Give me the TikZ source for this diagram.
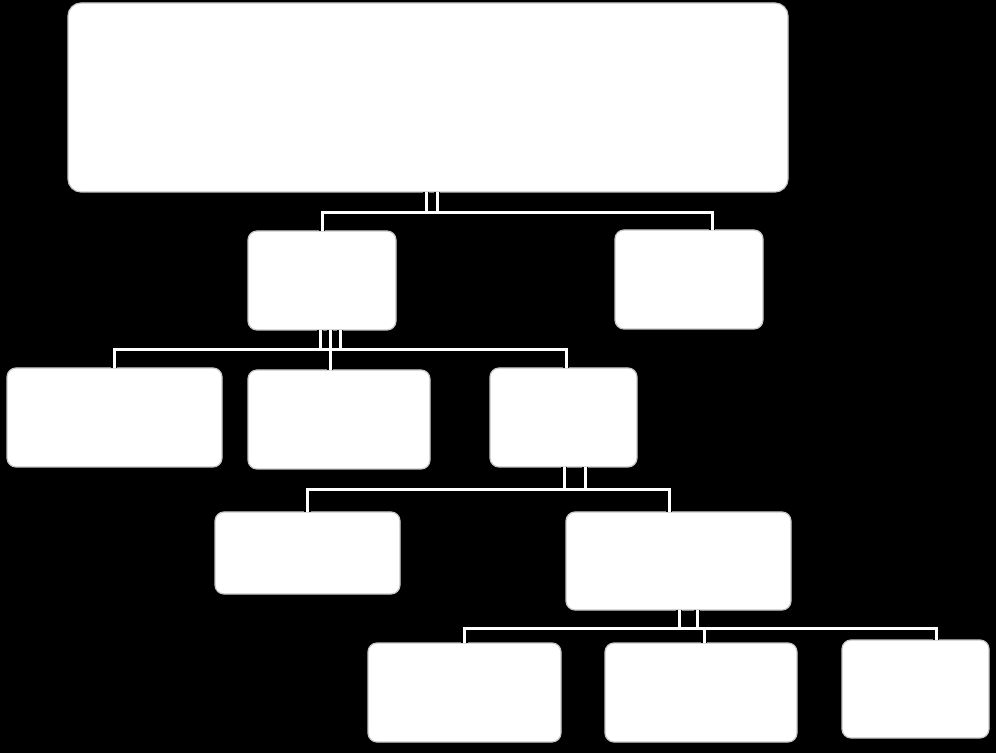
\documentclass[tikz,border=0pt]{standalone}
\usepackage{tikz}
\usetikzlibrary{positioning}

\begin{document}
\begin{tikzpicture}[x=1pt,y=1pt,
    every node/.style={fill=white,draw=gray!45,line width=1.2pt,rounded corners=9pt,outer sep=0pt,inner sep=0pt},
    linkedge/.style={draw=black,line width=6.5pt},
    linkcore/.style={draw=white,line width=3pt}]
      \fill[black] (0,0) rectangle (996,753);
      \useasboundingbox (0,0) rectangle (996,753);

      \node[minimum width={720pt},minimum height={189pt},rounded corners=13pt] (Top) at (428,655.5) {};

      \node[minimum width={148pt},minimum height={99pt}] (B1) at (322,472.5) {};
      \node[minimum width={148pt},minimum height={99pt}] (B2) at (689,473.5) {};

      \node[minimum width={215pt},minimum height={99pt}] (C1) at (114.5,335.5) {};
      \node[minimum width={182pt},minimum height={99pt}] (C2) at (339,333.5) {};
      \node[minimum width={147pt},minimum height={99pt}] (C3) at (563.5,335.5) {};

      \node[minimum width={185pt},minimum height={82pt}] (D1) at (307.5,200) {};
      \node[minimum width={225pt},minimum height={98pt}] (D2) at (678.5,192) {};

      \node[minimum width={193pt},minimum height={99pt}] (E1) at (464.5,60.5) {};
      \node[minimum width={192pt},minimum height={99pt}] (E2) at (701,60.5) {};
      \node[minimum width={147pt},minimum height={98pt}] (E3) at (915.5,64) {};

      % outline first, then the white core
      \foreach \ls in {linkedge,linkcore} {
        \draw[\ls] ([xshift=9pt]Top.south) |- ([yshift=18pt]B1.north) -- (B1.north);
        \draw[\ls] ([xshift=-2pt]Top.south) |- ([xshift=23pt,yshift=17pt]B2.north) -- ([xshift=23pt]B2.north);

        \draw[\ls] ([xshift=18pt]B1.south) |- ([xshift=-0.5pt,yshift=18pt]C1.north) -- ([xshift=-0.5pt]C1.north);
        \draw[\ls] ([xshift=8pt]B1.south) |- ([xshift=-9pt,yshift=20pt]C2.north) -- ([xshift=-9pt]C2.north);
        \draw[\ls] ([xshift=-2pt]B1.south) |- ([xshift=2.5pt,yshift=18pt]C3.north) -- ([xshift=2.5pt]C3.north);

        \draw[\ls] ([xshift=21.5pt]C3.south) |- ([yshift=22pt]D1.north) -- (D1.north);
        \draw[\ls] ([xshift=0.5pt]C3.south) |- ([xshift=-9.5pt,yshift=22pt]D2.north) -- ([xshift=-9.5pt]D2.north);

        \draw[\ls] ([xshift=18.5pt]D2.south) |- ([yshift=15pt]E1.north) -- (E1.north);
        \draw[\ls] ([xshift=0.5pt]D2.south) |- ([xshift=3pt,yshift=15pt]E2.north) -- ([xshift=3pt]E2.north);
        \draw[\ls] ([xshift=0.5pt]D2.south) |- ([xshift=20.5pt,yshift=12pt]E3.north) -- ([xshift=20.5pt]E3.north);
      }
\end{tikzpicture}
\end{document}
